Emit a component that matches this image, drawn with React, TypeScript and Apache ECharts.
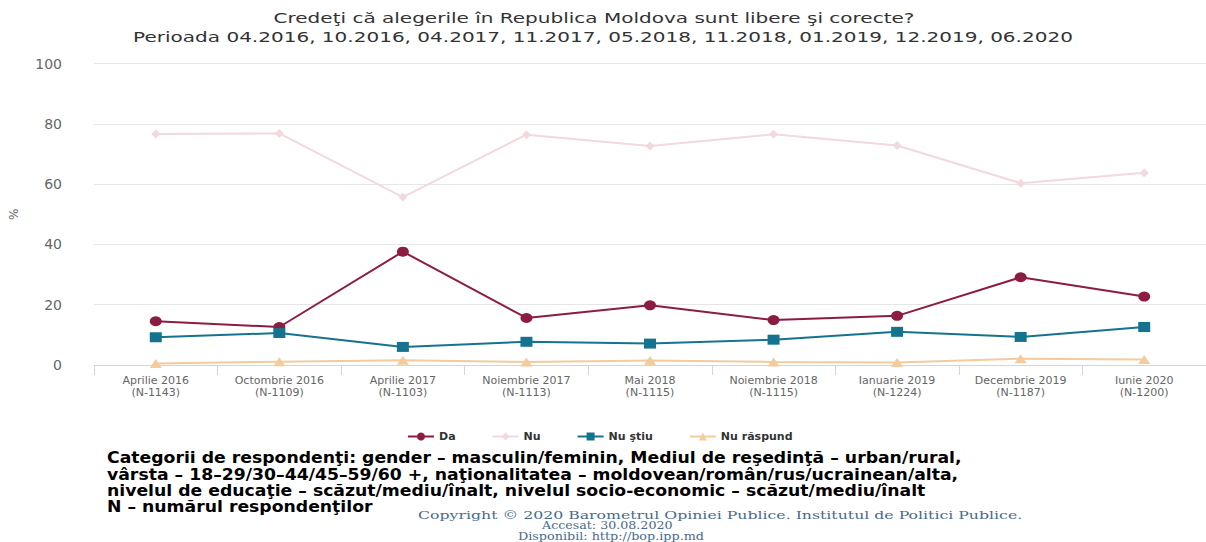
import React, { useEffect, useRef } from "react";
import * as echarts from "echarts";

const categories = [
  "Aprilie 2016\n(N-1143)",
  "Octombrie 2016\n(N-1109)",
  "Aprilie 2017\n(N-1103)",
  "Noiembrie 2017\n(N-1113)",
  "Mai 2018\n(N-1115)",
  "Noiembrie 2018\n(N-1115)",
  "Ianuarie 2019\n(N-1224)",
  "Decembrie 2019\n(N-1187)",
  "Iunie 2020\n(N-1200)",
];
const da = [14.5, 12.6, 37.6, 15.6, 19.8, 14.9, 16.3, 29.1, 22.7];
const nu = [76.6, 76.8, 55.7, 76.4, 72.6, 76.5, 72.8, 60.3, 63.8];
const nuStiu = [9.2, 10.6, 6.0, 7.7, 7.1, 8.4, 11.0, 9.3, 12.6];
const nuRaspund = [0.5, 1.1, 1.6, 1.0, 1.5, 1.0, 0.8, 2.1, 1.8];

const titleLines = [
  "Credeţi că alegerile în Republica Moldova sunt libere şi corecte?",
  "Perioada 04.2016, 10.2016, 04.2017, 11.2017, 05.2018, 11.2018, 01.2019, 12.2019, 06.2020",
];
const noteLines = [
  "Categorii de respondenţi: gender – masculin/feminin, Mediul de reşedinţă – urban/rural,",
  "vârsta – 18–29/30–44/45–59/60 +, naţionalitatea – moldovean/român/rus/ucrainean/alta,",
  "nivelul de educaţie – scăzut/mediu/înalt, nivelul socio-economic – scăzut/mediu/înalt",
  "N – numărul respondenţilor",
];
const copyrightLines = [
  "Copyright © 2020 Barometrul Opiniei Publice. Institutul de Politici Publice.",
  "Accesat: 30.08.2020",
  "Disponibil: http://bop.ipp.md",
];

export default function App() {
  const ref = useRef<HTMLDivElement>(null);
  useEffect(() => {
    if (!ref.current) return;
    const chart = echarts.init(ref.current, null, { renderer: "svg" });
    const font = "DejaVu Sans";
    const mk = (name: string, data: number[], color: string, symbol: string, size: number | number[]) => ({
      name,
      type: "line",
      data,
      symbol,
      symbolSize: size,
      showAllSymbol: true,
      lineStyle: { color, width: 2 },
      itemStyle: { color },
    });
    const titlePos = [
      [594, 18],
      [603, 37],
    ];
    const copyPos = [
      [418, 515, 1.43],
      [542, 525.5, 1.15],
      [518, 536, 1.16],
    ];
    chart.setOption({
      animation: false,
      backgroundColor: "#ffffff",
      textStyle: { fontFamily: font },
      grid: { left: 93, right: 0, top: 63.5, bottom: 177, containLabel: false },
      xAxis: {
        type: "category",
        data: categories,
        boundaryGap: true,
        axisLine: { lineStyle: { color: "#ccd6eb", width: 1 } },
        axisTick: { show: true, length: 10, lineStyle: { color: "#ccd6eb" } },
        axisLabel: { color: "#666666", fontSize: 11, lineHeight: 12, margin: 9, fontFamily: font },
      },
      yAxis: {
        type: "value",
        min: 0,
        max: 100,
        interval: 20,
        name: "%",
        nameLocation: "middle",
        nameRotate: 90,
        nameGap: 74,
        nameTextStyle: { color: "#666666", fontSize: 12, fontFamily: font },
        axisLine: { show: false },
        axisTick: { show: false },
        splitLine: { lineStyle: { color: "#e6e6e6", width: 1 } },
        axisLabel: { color: "#666666", fontSize: 14, margin: 32, fontFamily: font },
      },
      legend: {
        top: 426,
        left: 402,
        itemWidth: 26,
        itemHeight: 10,
        itemGap: 36,
        textStyle: { color: "#333333", fontSize: 11, fontWeight: "bold", fontFamily: font },
        data: ["Da", "Nu", "Nu ştiu", "Nu răspund"],
      },
      series: [
        mk("Da", da, "#8c1c40", "circle", [12, 10]),
        mk("Nu", nu, "#f1d9dd", "diamond", 9),
        mk("Nu ştiu", nuStiu, "#16738f", "rect", [12, 10]),
        mk("Nu răspund", nuRaspund, "#f3cb9c", "triangle", [12, 9]),
      ],
      graphic: [
        ...titleLines.map((t, i) => ({
          type: "text",
          x: titlePos[i][0],
          y: titlePos[i][1],
          scaleX: 1.43,
          style: {
            text: t,
            fill: "#333333",
            font: `14px ${font}`,
            align: "center",
            verticalAlign: "middle",
          },
        })),
        ...noteLines.map((t, i) => ({
          type: "text",
          x: 107,
          y: 458 + i * 16.4,
          scaleX: 1.15,
          style: {
            text: t,
            fill: "#000000",
            font: `bold 15px ${font}`,
            align: "left",
            verticalAlign: "middle",
          },
        })),
        ...copyrightLines.map((t, i) => ({
          type: "text",
          x: copyPos[i][0],
          y: copyPos[i][1],
          scaleX: copyPos[i][2],
          style: {
            text: t,
            fill: "#4a6a8c",
            font: `11px "DejaVu Serif"`,
            align: "left",
            verticalAlign: "middle",
          },
        })),
      ],
    });
    return () => chart.dispose();
  }, []);
  return (
    <div
      ref={ref}
      style={{ position: "fixed", left: 0, top: 0, width: 1206, height: 542 }}
    />
  );
}
